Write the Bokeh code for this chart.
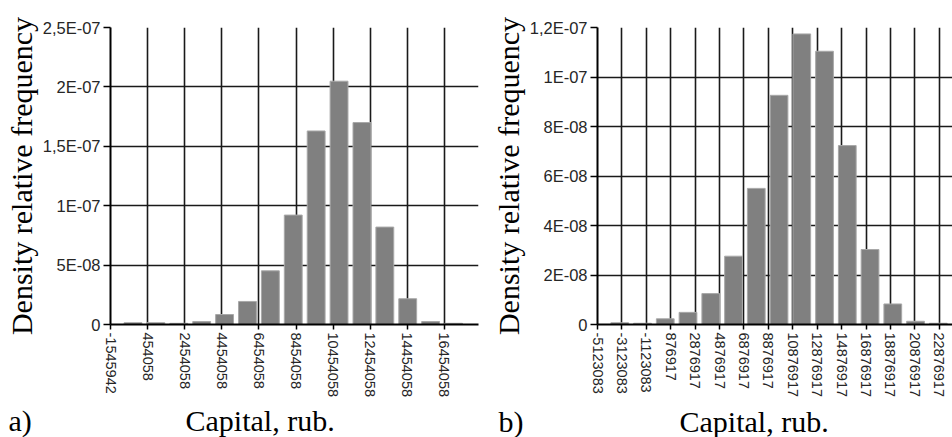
from bokeh.plotting import figure
from bokeh.models import FixedTicker, Label, Range1d, CustomJSTickFormatter, ColumnDataSource
from bokeh.layouts import row, column
from bokeh.embed import file_html
from bokeh.resources import INLINE

# ---------------- data: panel a) ----------------
a_x_ticks = [-1545942, 454058, 2454058, 4454058, 6454058, 8454058,
             10454058, 12454058, 14454058, 16454058]
a_x_labels = ["-1545942", "454058", "2454058", "4454058", "6454058", "8454058",
              "10454058", "12454058", "14454058", "16454058"]
a_y_ticks = [0, 5e-08, 1e-07, 1.5e-07, 2e-07, 2.5e-07]
a_y_labels = ["0", "5E-08", "1E-07", "1,5E-07", "2E-07", "2,5E-07"]
a_bin_first_center = -333000
a_bin_width = 1234000
a_density = [0.15e-08, 0.15e-08, 0.1e-08, 0.25e-08, 0.84e-08, 1.94e-08, 4.52e-08,
             9.21e-08, 16.29e-08, 20.48e-08, 17.0e-08, 8.2e-08, 2.17e-08,
             0.25e-08, 0.1e-08]
a_x_end = 18290000

# ---------------- data: panel b) ----------------
b_x_ticks = [-5123083, -3123083, -1123083, 876917, 2876917, 4876917, 6876917,
             8876917, 10876917, 12876917, 14876917, 16876917, 18876917,
             20876917, 22876917]
b_x_labels = ["-5123083", "-3123083", "-1123083", "876917", "2876917", "4876917",
              "6876917", "8876917", "10876917", "12876917", "14876917",
              "16876917", "18876917", "20876917", "22876917"]
b_y_ticks = [0, 2e-08, 4e-08, 6e-08, 8e-08, 1e-07, 1.2e-07]
b_y_labels = ["0", "2E-08", "4E-08", "6E-08", "8E-08", "1E-07", "1,2E-07"]
b_bin_first_center = -3300000
b_bin_width = 1864000
b_density = [0.07e-08, 0.05e-08, 0.23e-08, 0.49e-08, 1.25e-08, 2.76e-08, 5.5e-08,
             9.26e-08, 11.74e-08, 11.04e-08, 7.23e-08, 3.03e-08, 0.83e-08,
             0.13e-08, 0.05e-08]
b_x_end = 23960000

x_title = "Capital, rub."
y_title = "Density relative frequency"
panel_letters = ["a)", "b)"]

TICK_JS = """
for (let k = 0; k < vals.length; k++) {
  const v = vals[k];
  if (v === tick || Math.abs(v - tick) <= 1e-9 * Math.max(Math.abs(v), Math.abs(tick))) return labs[k];
}
return '';
"""

SANS = "Liberation Sans"
SERIF = "Liberation Serif"
GRID = "#1a1a1a"


def make_panel(x_ticks, x_labels, y_ticks, y_labels, first_center, bin_width,
               density, x_end, width, min_left, min_right, min_top):
    p = figure(width=width, height=400, output_backend="svg", toolbar_location=None,
               title=None,
               x_range=Range1d(x_ticks[0], x_end), y_range=Range1d(0, y_ticks[-1]),
               min_border_left=min_left, min_border_right=min_right,
               min_border_top=min_top, min_border_bottom=76)
    p.outline_line_color = None
    p.background_fill_color = "white"
    p.border_fill_color = "white"

    centers = [first_center + i * bin_width for i in range(len(density))]
    src = ColumnDataSource(dict(x=centers, top=density))
    p.vbar(x="x", top="top", bottom=0, width=bin_width * 0.78, source=src,
           fill_color="#808080", line_color="#a8a8a8", line_width=1)

    p.xaxis.ticker = FixedTicker(ticks=x_ticks)
    p.yaxis.ticker = FixedTicker(ticks=y_ticks)
    p.xaxis.formatter = CustomJSTickFormatter(args=dict(vals=x_ticks, labs=x_labels), code=TICK_JS)
    p.yaxis.formatter = CustomJSTickFormatter(args=dict(vals=y_ticks, labs=y_labels), code=TICK_JS)
    p.xaxis.major_label_orientation = "vertical"

    for ax in (p.xaxis[0], p.yaxis[0]):
        ax.axis_line_color = "black"
        ax.axis_line_width = 2
        ax.major_tick_line_color = "black"
        ax.major_tick_line_width = 1.5
        ax.major_tick_in = 0
        ax.minor_tick_line_color = None
        ax.major_label_text_font = SANS
        ax.major_label_text_color = "#262626"
        ax.major_label_standoff = 3
    p.xaxis.major_tick_out = 5
    p.yaxis.major_tick_out = 7
    p.xaxis.major_label_text_font_size = "14.5px"
    p.yaxis.major_label_text_font_size = "16.5px"

    p.yaxis.axis_label = y_title
    p.yaxis.axis_label_text_font = SERIF
    p.yaxis.axis_label_text_font_style = "normal"
    p.yaxis.axis_label_text_font_size = "30px"
    p.yaxis.axis_label_text_color = "black"
    p.yaxis.axis_label_standoff = 2

    p.xgrid.ticker = FixedTicker(ticks=x_ticks)
    p.ygrid.ticker = FixedTicker(ticks=y_ticks)
    for g in (p.xgrid[0], p.ygrid[0]):
        g.grid_line_color = GRID
        g.grid_line_width = 1.6
        g.grid_line_alpha = 1.0
    return p


pa = make_panel(a_x_ticks, a_x_labels, a_y_ticks, a_y_labels, a_bin_first_center,
                a_bin_width, a_density, a_x_end, 488, 110, 10, 27)
pb = make_panel(b_x_ticks, b_x_labels, b_y_ticks, b_y_labels, b_bin_first_center,
                b_bin_width, b_density, b_x_end, 464, 105, 0, 24)

# caption strip below the two charts: panel letters and x-axis titles
strip = figure(width=952, height=37, output_backend="svg", toolbar_location=None,
               title=None,
               x_range=Range1d(0, 952), y_range=Range1d(37, 0),
               x_axis_location=None, y_axis_location=None,
               min_border=0, min_border_left=0, min_border_right=0,
               min_border_top=0, min_border_bottom=0)
strip.xgrid.visible = False
strip.ygrid.visible = False
strip.outline_line_color = None
strip.background_fill_color = "white"
strip.border_fill_color = "white"
# positions in pixels from the strip's top-left corner
for txt, sx, sy in [(panel_letters[0], 8, 20), (x_title, 185, 20),
                    (panel_letters[1], 498, 21), (x_title, 679, 21)]:
    strip.add_layout(Label(x=sx, y=sy, text=txt, text_font=SERIF,
                           text_font_size="30px", text_color="black",
                           text_baseline="alphabetic", text_align="left"))

layout = column(row(pa, pb), strip)
open("out.html", "w").write(file_html(layout, INLINE))
